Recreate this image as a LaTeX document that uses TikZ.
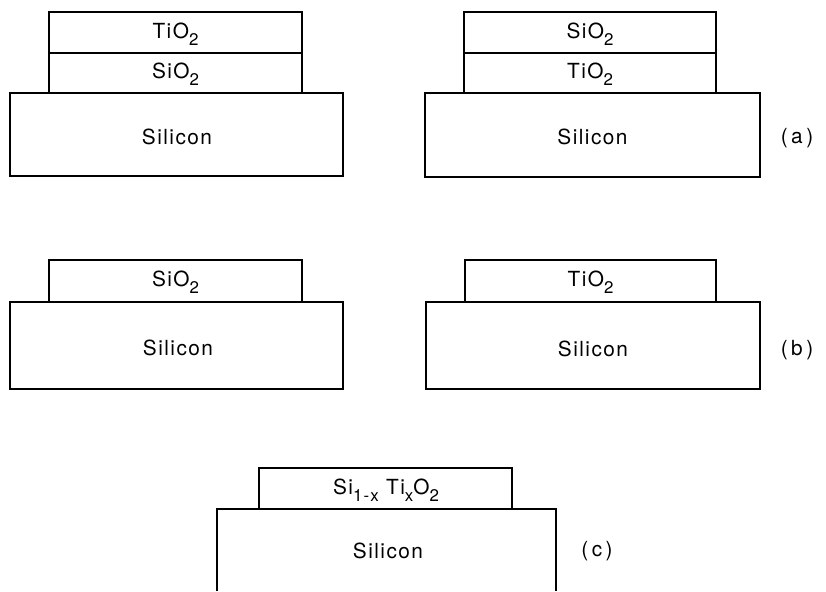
\documentclass[tikz,border=0pt]{standalone}
\usepackage{fontspec}
\setmainfont{TeX Gyre Heros}[LetterSpace=7]
\newcommand{\chemsub}[1]{\raisebox{-0.6ex}{\fontsize{12}{13}\selectfont #1}}

\begin{document}
\begin{tikzpicture}[x=0.025cm, y=-0.025cm, line width=1.4pt,
  font=\fontsize{14.8}{17}\selectfont, txt/.style={inner sep=0pt}]
\useasboundingbox (0,0) rectangle (826,591);
% ---------- (a): two-layer stacks ----------
\draw (49,12) rectangle (302,53);
\draw (49,53) rectangle (302,93);
\draw (10,93) rectangle (343,176);
\node[txt] (aTiL) at (175.5,34) {TiO\chemsub{2}};
\node[txt] (aSiL) at (175.5,74) {SiO\chemsub{2}};
\node[txt] (aSubL) at (177,137) {Silicon};
\draw (464,12) rectangle (716,53);
\draw (464,53) rectangle (716,93);
\draw (425,93) rectangle (760,177);
\node[txt] (aSiR) at (590,34) {SiO\chemsub{2}};
\node[txt] (aTiR) at (590,74) {TiO\chemsub{2}};
\node[txt] (aSubR) at (592.5,137) {Silicon};
\node[txt] (lblA) at (797,138) {(\,a\,)};
% ---------- (b): single layers ----------
\draw (49,260) rectangle (302,302);
\draw (10,302) rectangle (343,389);
\node[txt] (bSi) at (175.5,282) {SiO\chemsub{2}};
\node[txt] (bSubL) at (178,348) {Silicon};
\draw (465,260) rectangle (716,302);
\draw (426,302) rectangle (760,389);
\node[txt] (bTi) at (590.5,282) {TiO\chemsub{2}};
\node[txt] (bSubR) at (593,349) {Silicon};
\node[txt] (lblB) at (797,350) {(\,b\,)};
% ---------- (c): mixed oxide, substrate cut off below ----------
\draw (259,468) rectangle (512,509);
\draw (217,591) -- (217,509) -- (556,509) -- (556,591);
\node[txt] (cMix) at (386,490) {Si\chemsub{1-x}\ Ti\chemsub{x}O\chemsub{2}};
\node[txt] (cSub) at (388,551) {Silicon};
\node[txt] (lblC) at (597,551) {(\,c\,)};
\end{tikzpicture}
\end{document}
